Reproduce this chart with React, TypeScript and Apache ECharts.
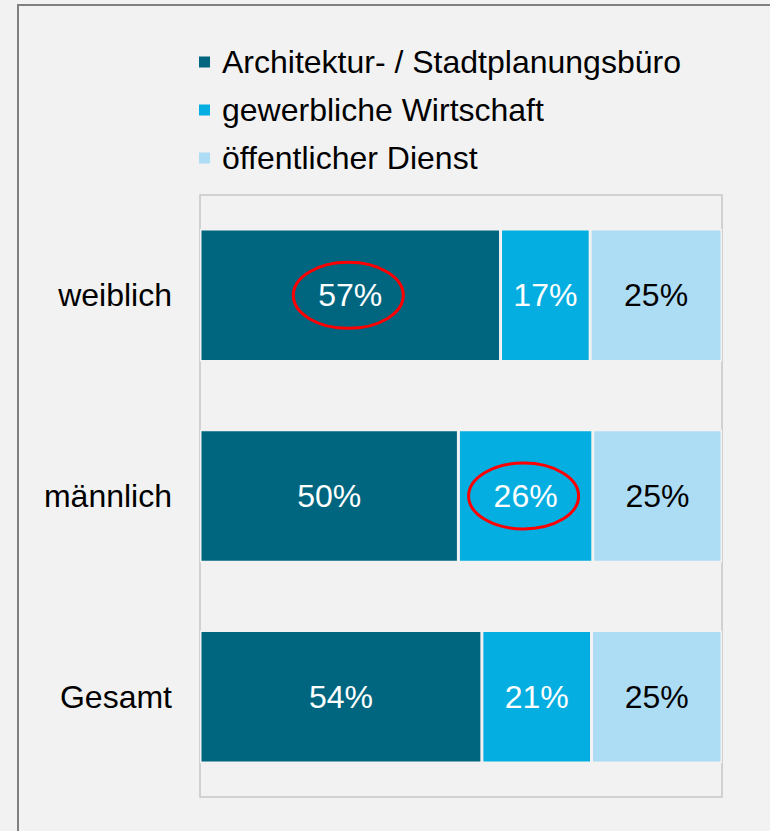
import React, { useEffect, useRef } from "react";
import * as echarts from "echarts";

const categories = ["weiblich", "männlich", "Gesamt"];
const seriesNames = ["Architektur- / Stadtplanungsbüro", "gewerbliche Wirtschaft", "öffentlicher Dienst"];
const architektur = [57, 50, 54];
const gewerblich = [17, 26, 21];
const oeffentlich = [25, 25, 25];
const colors = ["#006680", "#05aee0", "#addcf5"];
const labelColors = ["#ffffff", "#ffffff", "#000000"];
// highlighted cells: [seriesIndex, categoryIndex]
const highlights = [[0, 0], [1, 1]];

const FONT = "'Liberation Sans', Arial, sans-serif";

export default function App() {
  const ref = useRef<HTMLDivElement>(null);
  useEffect(() => {
    document.body.style.margin = "0";
    document.body.style.background = "#f2f2f2";
    document.body.style.overflow = "hidden";
    const chart = echarts.init(ref.current!, null, { renderer: "svg" });
    const raw = [architektur, gewerblich, oeffentlich];
    const sums = categories.map((_, i) => raw.reduce((s, a) => s + a[i], 0));
    const norm = raw.map((arr) => arr.map((v, i) => (v / sums[i]) * 100));
    const series = raw.map((arr, si) => ({
      name: seriesNames[si],
      type: "bar",
      stack: "total",
      barWidth: "66%",
      itemStyle: { color: colors[si], borderColor: "#f2f2f2", borderWidth: 1.5 },
      label: {
        show: true,
        position: "inside",
        color: labelColors[si],
        fontSize: 32,
        fontFamily: FONT,
        formatter: (p: any) => arr[p.dataIndex] + "%",
      },
      emphasis: { disabled: true },
      data: norm[si],
    }));
    chart.setOption({
      animation: false,
      backgroundColor: "#f2f2f2",
      textStyle: { fontFamily: FONT },
      legend: {
        orient: "vertical",
        left: 192,
        top: 41,
        itemWidth: 13,
        itemHeight: 13,
        itemGap: 16,
        icon: "rect",
        selectedMode: false,
        textStyle: { fontSize: 32, color: "#000", fontFamily: FONT, padding: [0, 0, 0, 6], lineHeight: 32 },
        data: seriesNames,
      },
      grid: {
        left: 200,
        right: 48,
        top: 195,
        bottom: 34,
        show: true,
        borderColor: "#c6c6c6",
        borderWidth: 1.5,
        backgroundColor: "transparent",
        containLabel: false,
      },
      xAxis: {
        type: "value",
        min: 0,
        max: 100,
        show: false,
      },
      yAxis: {
        type: "category",
        data: categories,
        inverse: true,
        axisLine: { show: false },
        axisTick: { show: false },
        splitLine: { show: false },
        axisLabel: { fontSize: 32, color: "#000", margin: 28, fontFamily: FONT },
      },
      series,
    });
    const graphics: any[] = [
      {
        type: "line",
        shape: { x1: 17, y1: 5, x2: 770, y2: 5 },
        style: { stroke: "#808080", lineWidth: 2 },
        silent: true,
      },
      {
        type: "line",
        shape: { x1: 18, y1: 4, x2: 18, y2: 831 },
        style: { stroke: "#808080", lineWidth: 2 },
        silent: true,
      },
    ];
    highlights.forEach(([si, ci]) => {
      let start = 0;
      for (let k = 0; k < si; k++) start += norm[k][ci];
      const mid = start + norm[si][ci] / 2;
      const p = chart.convertToPixel({ gridIndex: 0 } as any, [mid, ci]) as number[];
      graphics.push({
        type: "ellipse",
        shape: { cx: p[0] - 2, cy: p[1], rx: 55, ry: 33 },
        style: { fill: "none", stroke: "#ff0000", lineWidth: 3 },
        silent: true,
        z: 100,
      });
    });
    chart.setOption({ graphic: graphics });
    return () => chart.dispose();
  }, []);
  return <div ref={ref} style={{ width: 770, height: 831, overflow: "hidden" }} />;
}
